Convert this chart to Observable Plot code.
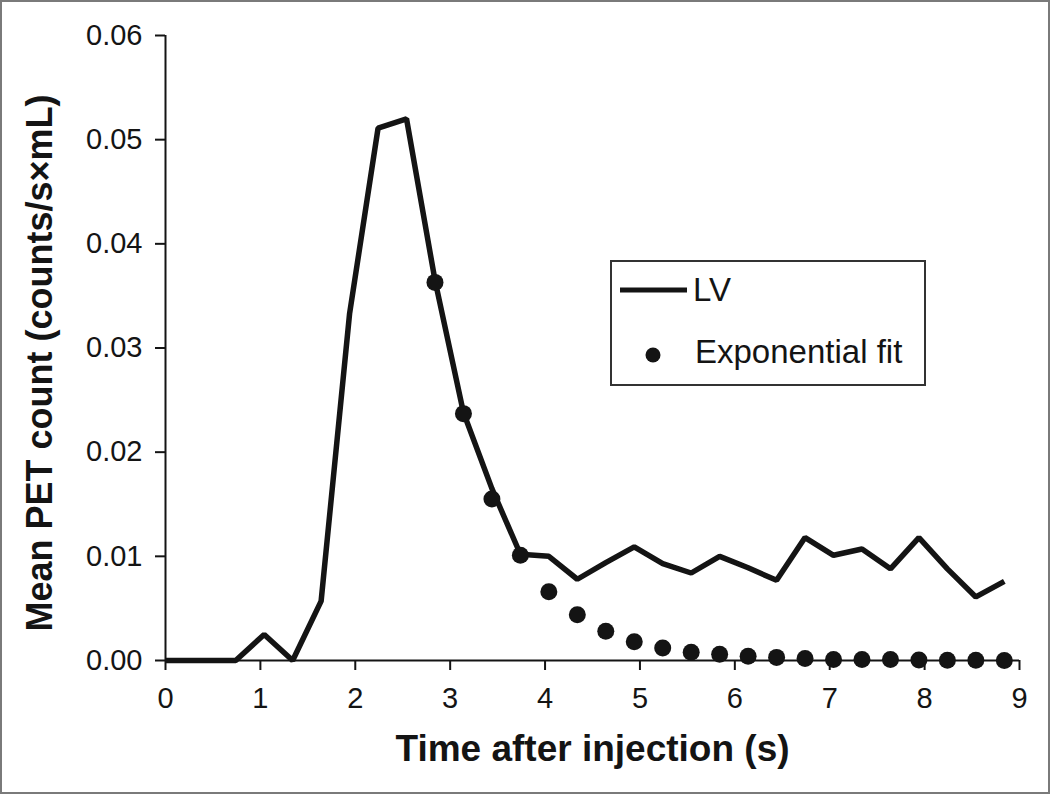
<!DOCTYPE html>
<html>
<head>
<meta charset="utf-8">
<script src="https://cdn.jsdelivr.net/npm/d3@7"></script>
<script src="https://cdn.jsdelivr.net/npm/@observablehq/plot@0.6"></script>
<style>
  html, body { margin: 0; padding: 0; background: #fff; }
  #wrap { position: relative; width: 1050px; height: 794px; overflow: hidden; font-family: "Liberation Sans", Arial, sans-serif; }
  #frame { position: absolute; left: 0; top: 0; width: 1050px; height: 794px; box-sizing: border-box; border: 2px solid #7a7a7a; pointer-events: none; }
  #legend { position: absolute; left: 610px; top: 260px; }
</style>
</head>
<body>
<div id="wrap"><div id="frame"></div></div>
<script>
// LV curve (time in s, mean PET count)
const lvTime = [0, 0.14, 0.44, 0.74, 1.04, 1.34, 1.64, 1.94, 2.24, 2.54, 2.84, 3.14, 3.44, 3.74, 4.04, 4.34, 4.64, 4.94, 5.24, 5.54, 5.84, 6.14, 6.44, 6.74, 7.04, 7.34, 7.64, 7.94, 8.24, 8.54, 8.84];
const lvCount = [0, 0, 0, 0, 0.0025, 0, 0.0057, 0.0333, 0.0511, 0.0520, 0.0365, 0.0238, 0.0165, 0.0102, 0.0100, 0.0078, 0.0094, 0.0109, 0.0093, 0.0084, 0.0100, 0.0089, 0.0077, 0.0118, 0.0101, 0.0107, 0.0088, 0.0118, 0.0088, 0.0061, 0.0076];
// Exponential fit points
const fitTime = [2.84, 3.14, 3.44, 3.74, 4.04, 4.34, 4.64, 4.94, 5.24, 5.54, 5.84, 6.14, 6.44, 6.74, 7.04, 7.34, 7.64, 7.94, 8.24, 8.54, 8.84];
const fitCount = [0.0363, 0.0237, 0.0155, 0.0101, 0.0066, 0.0044, 0.0028, 0.0018, 0.0012, 0.0008, 0.0006, 0.0004, 0.0003, 0.0002, 0.0001, 0.0001, 0.0001, 0.00005, 0.00003, 0.00002, 0.00001];
// Axis ticks and labels
const xTicks = [0, 1, 2, 3, 4, 5, 6, 7, 8, 9];
const yTicks = [0, 0.01, 0.02, 0.03, 0.04, 0.05, 0.06];
const xTitle = "Time after injection (s)";
const yTitle = "Mean PET count (counts/s×mL)";
const seriesNames = ["LV", "Exponential fit"];

const lv = lvTime.map((t, i) => ({t, v: lvCount[i]}));
const fit = fitTime.map((t, i) => ({t, v: fitCount[i]}));
const ink = "#141414";

const chart = Plot.plot({
  width: 1050,
  height: 794,
  marginLeft: 165,
  marginRight: 31,
  marginTop: 35,
  marginBottom: 134,
  style: {background: "#fff", fontFamily: "'Liberation Sans', Arial, sans-serif", color: ink},
  x: {domain: [0, 9]},
  y: {domain: [0, 0.06]},
  marks: [
    Plot.axisX(xTicks, {tickSize: 10, tickPadding: 17, fontSize: 29, strokeWidth: 2, stroke: ink, fill: ink, label: null}),
    Plot.axisY(yTicks, {tickSize: 10, tickPadding: 13, fontSize: 29, strokeWidth: 2, stroke: ink, fill: ink, label: null, tickFormat: d3.format(".2f")}),
    Plot.ruleX([0], {stroke: ink, strokeWidth: 2}),
    Plot.ruleY([0], {stroke: ink, strokeWidth: 2}),
    Plot.line(lv, {x: "t", y: "v", stroke: ink, strokeWidth: 5.5, strokeLinejoin: "miter", strokeLinecap: "butt"}),
    Plot.dot(fit, {x: "t", y: "v", r: 8.5, fill: ink, stroke: null}),
    Plot.text([xTitle], {frameAnchor: "bottom", dy: 89, text: d => d, fontSize: 37, fontWeight: "bold", fill: ink, lineAnchor: "middle", textAnchor: "middle"}),
    Plot.text([yTitle], {frameAnchor: "left", dx: -125, dy: 15, rotate: -90, text: d => d, fontSize: 36, fontWeight: "bold", fill: ink, lineAnchor: "middle", textAnchor: "middle"})
  ]
});
const wrap = document.getElementById("wrap");
wrap.insertBefore(chart, document.getElementById("frame"));

// Legend box overlay
const lg = d3.select(wrap).append("svg")
  .attr("id", "legend")
  .attr("width", 316).attr("height", 127);
lg.append("rect").attr("x", 1).attr("y", 1).attr("width", 314).attr("height", 124)
  .attr("fill", "#fff").attr("stroke", "#333").attr("stroke-width", 2);
lg.append("line").attr("x1", 10).attr("x2", 77).attr("y1", 30).attr("y2", 30)
  .attr("stroke", ink).attr("stroke-width", 5);
lg.append("text").attr("x", 83).attr("y", 41).text(seriesNames[0])
  .attr("font-size", 33).attr("fill", ink).attr("font-family", "'Liberation Sans', Arial, sans-serif");
lg.append("circle").attr("cx", 43).attr("cy", 95).attr("r", 7.5).attr("fill", ink);
lg.append("text").attr("x", 85).attr("y", 103).text(seriesNames[1])
  .attr("font-size", 33).attr("fill", ink).attr("font-family", "'Liberation Sans', Arial, sans-serif");
</script>
</body>
</html>
